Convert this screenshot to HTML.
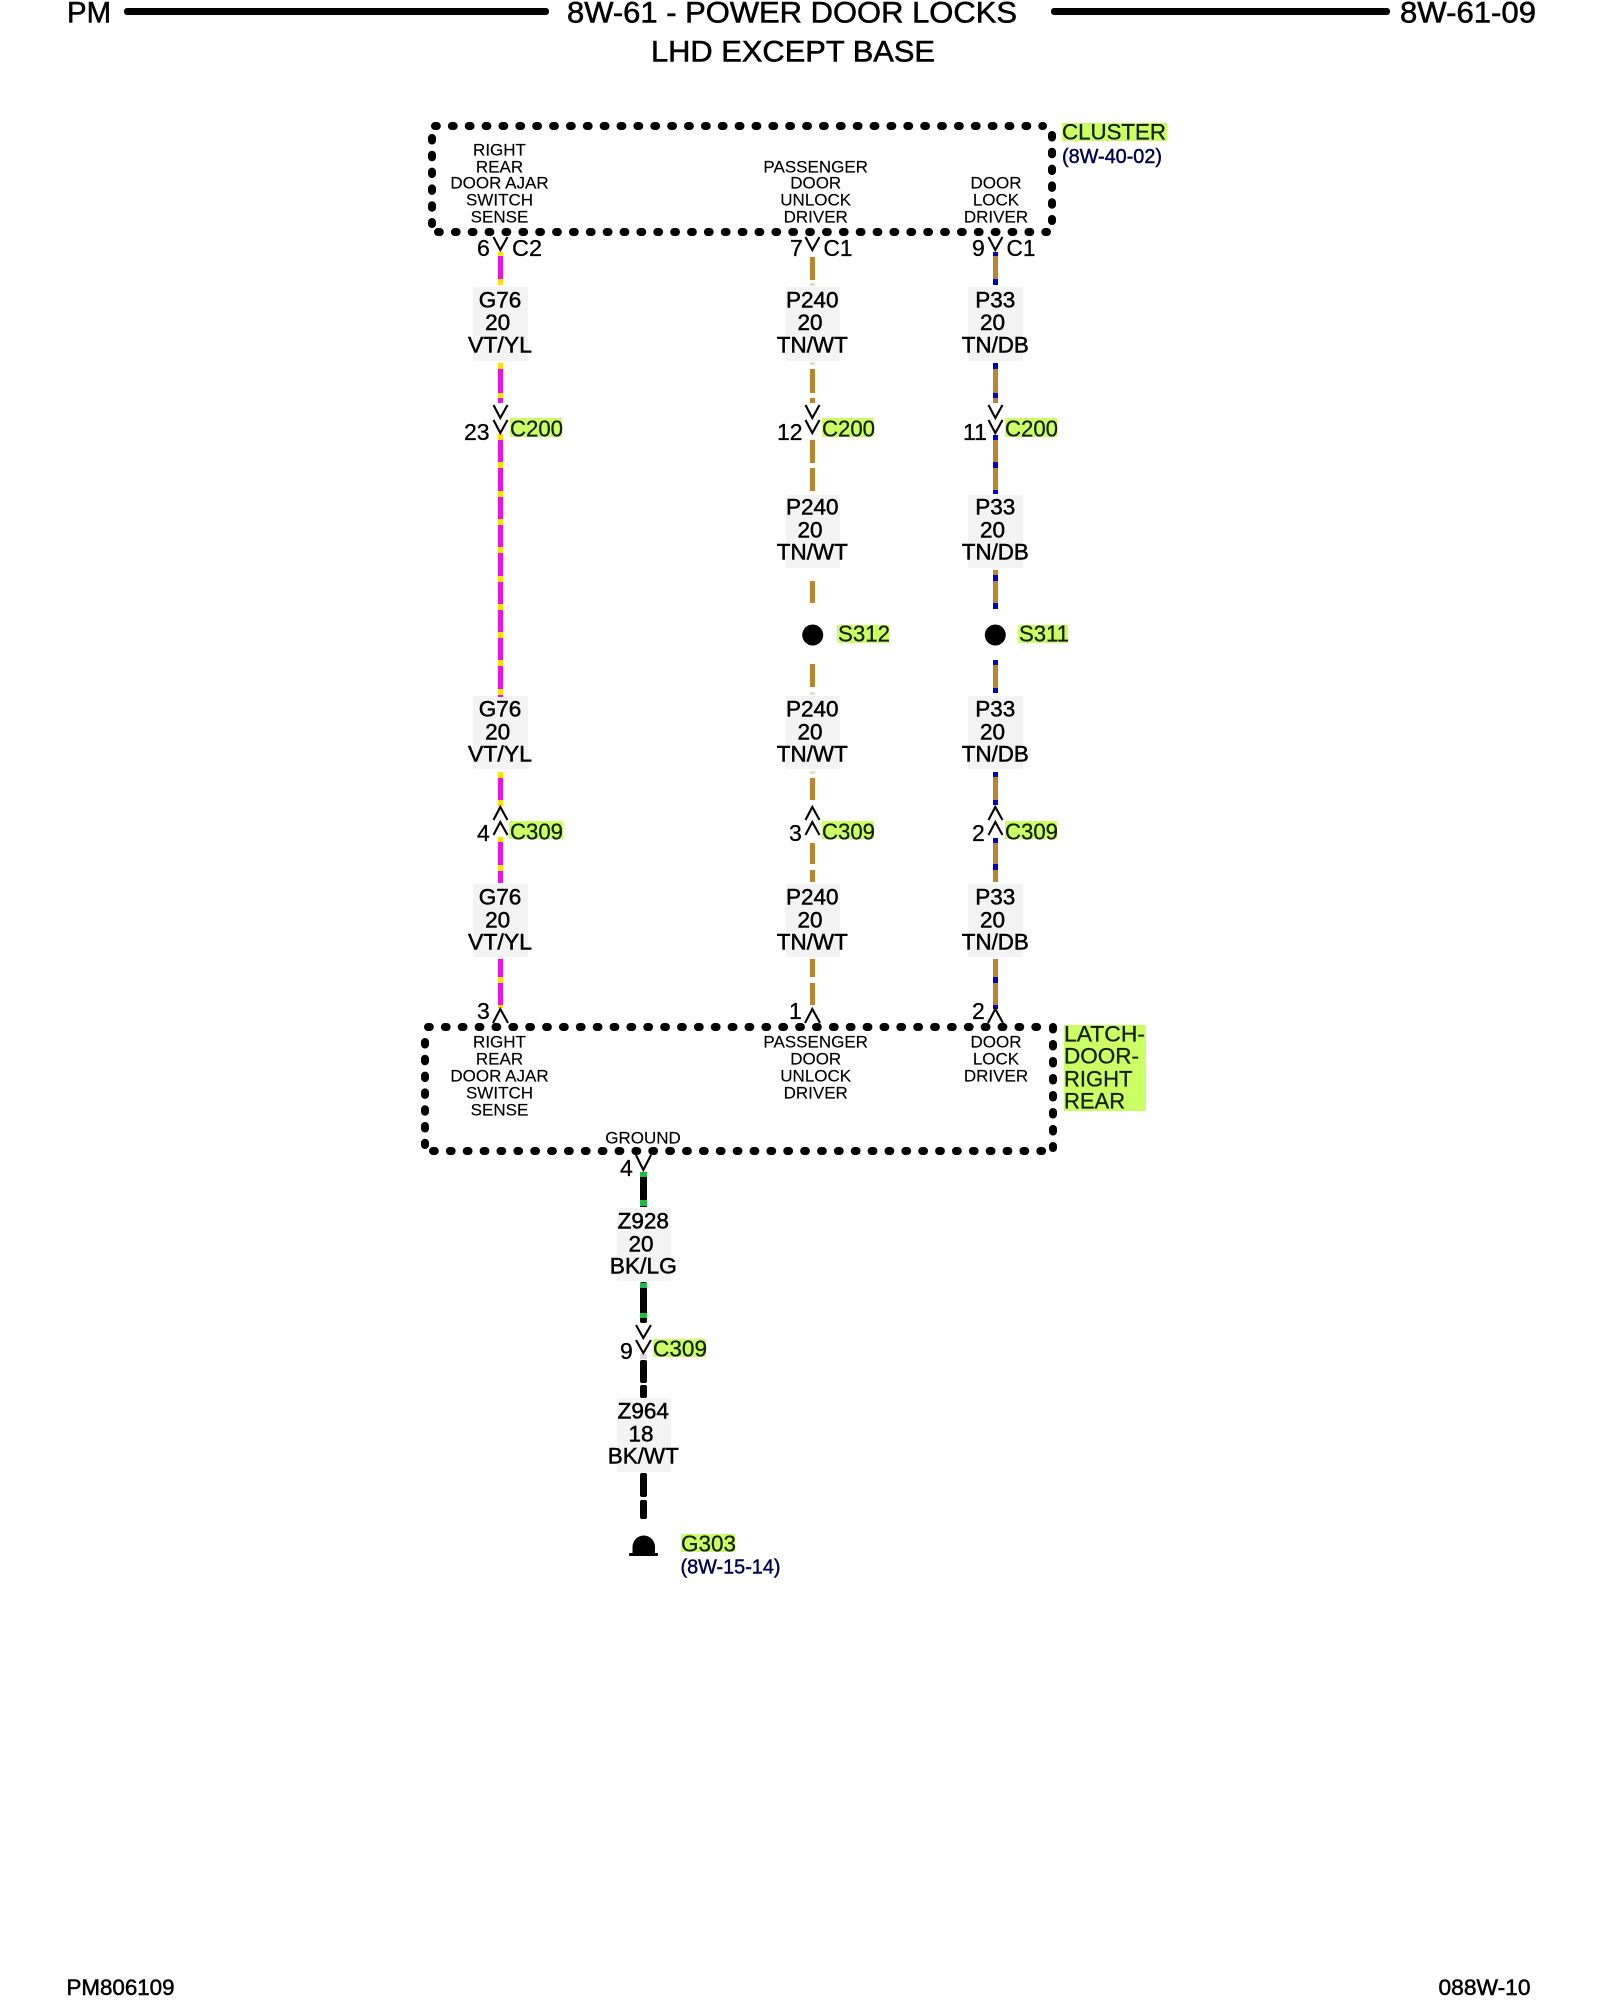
<!DOCTYPE html>
<html><head><meta charset="utf-8"><style>
html,body{margin:0;padding:0;background:#fff}
svg{display:block}
text{font-family:"Liberation Sans",sans-serif;fill:#000}
.h{font-size:30px;stroke:#000;stroke-width:.55;transform:translateY(-.5px)}
.f{font-size:22px;stroke:#000;stroke-width:.5}
.s{font-size:17px;text-anchor:middle;fill:#000;stroke:#000;stroke-width:.15;transform:translateY(-.4px)}
.w{font-size:22.5px;text-anchor:middle;stroke:#000;stroke-width:.5;transform:translateY(-1.3px)}
.n{font-size:23px;stroke:#000;stroke-width:.3;transform:translateY(-1px)}
.g{font-size:23px;fill:#142000;stroke:#142000;stroke-width:.3;transform:translateY(-1.3px)}
.r{font-size:20px;fill:#000050;stroke:#000050;stroke-width:.45}
.b{fill:none;stroke:#000;stroke-width:8;stroke-linecap:round}
.c{fill:none;stroke:#000;stroke-width:2.1}
.m{fill:#e815e0}.y{fill:#ffdf00}.t{fill:#bb8530}.u{fill:#0000cc}.k{fill:#000}.e{fill:#22bb44}.l{fill:#e6dccb}
.hl{fill:#ccff66}.box{fill:#f3f3f3}
</style></head><body>
<svg xmlns="http://www.w3.org/2000/svg" width="1600" height="2000" viewBox="0 0 1600 2000">
<rect width="1600" height="2000" fill="#fff"/>

<!-- header -->
<text class="h" x="67" y="23" textLength="44" lengthAdjust="spacingAndGlyphs">PM</text>
<rect x="124" y="8" width="425" height="7" rx="3" fill="#000"/>
<text class="h" x="567" y="23" textLength="450" lengthAdjust="spacingAndGlyphs">8W-61 - POWER DOOR LOCKS</text>
<rect x="1051" y="8" width="339" height="7" rx="3" fill="#000"/>
<text class="h" x="1400" y="23" textLength="136" lengthAdjust="spacingAndGlyphs">8W-61-09</text>
<text class="h" x="651" y="62" textLength="284" lengthAdjust="spacingAndGlyphs">LHD EXCEPT BASE</text>

<!-- footer -->
<text class="f" x="66.5" y="1995" textLength="108" lengthAdjust="spacingAndGlyphs">PM806109</text>
<text class="f" x="1438.5" y="1995" textLength="92" lengthAdjust="spacingAndGlyphs">088W-10</text>

<!-- highlights -->
<rect class="hl" x="1062" y="123" width="105" height="18"/>
<rect class="hl" x="510" y="418" width="52" height="19"/>
<rect class="hl" x="822" y="418" width="52" height="19"/>
<rect class="hl" x="1005" y="418" width="52" height="19"/>
<rect class="hl" x="837" y="625" width="52" height="18"/>
<rect class="hl" x="1018" y="625" width="50" height="18"/>
<rect class="hl" x="509" y="821" width="54" height="18"/>
<rect class="hl" x="822" y="821" width="52" height="18"/>
<rect class="hl" x="1005" y="821" width="52" height="18"/>
<rect class="hl" x="1064" y="1025" width="82" height="86"/>
<rect class="hl" x="653" y="1339" width="53" height="18"/>
<rect class="hl" x="681" y="1534" width="54" height="18"/>

<!-- wire label boxes -->
<rect class="box" x="473" y="287" width="55" height="74"/>
<rect class="box" x="786" y="287" width="54" height="74"/>
<rect class="box" x="968" y="287" width="55" height="74"/>
<rect class="box" x="786" y="495" width="54" height="73"/>
<rect class="box" x="968" y="495" width="55" height="73"/>
<rect class="box" x="473" y="696" width="55" height="73"/>
<rect class="box" x="786" y="696" width="54" height="73"/>
<rect class="box" x="968" y="696" width="55" height="73"/>
<rect class="box" x="473" y="884" width="55" height="73"/>
<rect class="box" x="786" y="884" width="54" height="73"/>
<rect class="box" x="968" y="884" width="55" height="73"/>
<rect class="box" x="617" y="1208" width="54" height="73"/>
<rect class="box" x="617" y="1398" width="54" height="74"/>

<!-- dotted component boxes -->
<path class="b" d="M435 126H1043" stroke-dasharray="1.8 15.07"/>
<path class="b" d="M438 232H1047" stroke-dasharray="1.8 15.07"/>
<path class="b" d="M432 138V224" stroke-dasharray="2.5 14.3"/>
<path class="b" d="M1052 135V221" stroke-dasharray="2.5 14.3"/>
<path class="b" d="M428 1027H1040" stroke-dasharray="1.8 15.07"/>
<path class="b" d="M433 1151H1045" stroke-dasharray="1.8 15.07"/>
<path class="b" d="M425 1042V1145" stroke-dasharray="2.5 14.3"/>
<path class="b" d="M1053 1027V1148" stroke-dasharray="2.5 14.5"/>

<!-- column 1 wire -->
<g>
<rect class="m" x="498" y="252" width="5" height="33"/>
<rect class="m" x="498" y="363" width="5" height="40"/>
<rect class="m" x="498" y="434" width="5" height="263"/>
<rect class="m" x="498" y="772" width="5" height="34"/>
<rect class="m" x="498" y="837" width="5" height="46"/>
<rect class="m" x="498" y="959" width="5" height="49"/>
<rect class="y" x="498" y="252" width="5" height="4"/>
<rect class="y" x="498" y="279" width="5" height="6"/>
<rect class="y" x="498" y="363" width="5" height="6"/>
<rect class="y" x="498" y="393" width="5" height="5"/>
<rect class="y" x="498" y="434" width="5" height="6"/>
<rect class="y" x="498" y="462" width="5" height="6"/>
<rect class="y" x="498" y="491" width="5" height="6"/>
<rect class="y" x="498" y="519" width="5" height="6"/>
<rect class="y" x="498" y="547" width="5" height="6"/>
<rect class="y" x="498" y="576" width="5" height="6"/>
<rect class="y" x="498" y="604" width="5" height="6"/>
<rect class="y" x="498" y="632" width="5" height="6"/>
<rect class="y" x="498" y="660" width="5" height="6"/>
<rect class="y" x="498" y="689" width="5" height="6"/>
<rect class="y" x="498" y="772" width="5" height="6"/>
<rect class="y" x="498" y="800" width="5" height="6"/>
<rect class="y" x="498" y="837" width="5" height="5"/>
<rect class="y" x="498" y="865" width="5" height="6"/>
<rect class="y" x="498" y="977" width="5" height="6"/>
<rect class="y" x="498" y="1005" width="5" height="3"/>
</g>

<!-- column 2 wire -->
<g>
<rect class="t" x="810" y="257" width="5" height="23"/>
<rect class="l" x="810" y="283" width="5" height="3"/>
<rect class="l" x="810" y="362" width="5" height="3"/>
<rect class="t" x="810" y="369" width="5" height="24"/>
<rect class="t" x="810" y="398" width="5" height="5"/>
<rect class="t" x="810" y="440" width="5" height="23"/>
<rect class="t" x="810" y="468" width="5" height="23"/>
<rect class="t" x="810" y="581" width="5" height="22"/>
<rect class="t" x="810" y="664" width="5" height="23"/>
<rect class="l" x="810" y="692" width="5" height="3"/>
<rect class="l" x="810" y="771" width="5" height="3"/>
<rect class="t" x="810" y="778" width="5" height="22"/>
<rect class="t" x="810" y="843" width="5" height="21"/>
<rect class="t" x="810" y="870" width="5" height="12"/>
<rect class="t" x="810" y="959" width="5" height="18"/>
<rect class="t" x="810" y="983" width="5" height="22"/>
</g>

<!-- column 3 wire -->
<g>
<rect class="t" x="993" y="252" width="5" height="33"/>
<rect class="t" x="993" y="363" width="5" height="40"/>
<rect class="t" x="993" y="435" width="5" height="59"/>
<rect class="t" x="993" y="570" width="5" height="39"/>
<rect class="t" x="993" y="660" width="5" height="33"/>
<rect class="t" x="993" y="772" width="5" height="33"/>
<rect class="t" x="993" y="838" width="5" height="44"/>
<rect class="t" x="993" y="959" width="5" height="50"/>
<rect class="u" x="993" y="252" width="5" height="4"/>
<rect class="u" x="993" y="279" width="5" height="6"/>
<rect class="u" x="993" y="363" width="5" height="6"/>
<rect class="u" x="993" y="393" width="5" height="5"/>
<rect class="u" x="993" y="435" width="5" height="5"/>
<rect class="u" x="993" y="462" width="5" height="6"/>
<rect class="u" x="993" y="490" width="5" height="4"/>
<rect class="u" x="993" y="575" width="5" height="6"/>
<rect class="u" x="993" y="603" width="5" height="6"/>
<rect class="u" x="993" y="660" width="5" height="5"/>
<rect class="u" x="993" y="688" width="5" height="5"/>
<rect class="u" x="993" y="772" width="5" height="5"/>
<rect class="u" x="993" y="800" width="5" height="5"/>
<rect class="u" x="993" y="838" width="5" height="5"/>
<rect class="u" x="993" y="864" width="5" height="6"/>
<rect class="u" x="993" y="977" width="5" height="6"/>
<rect class="u" x="993" y="1005" width="5" height="4"/>
</g>

<!-- ground wire -->
<g>
<rect class="k" x="640" y="1172" width="7" height="35"/>
<rect class="e" x="640" y="1172" width="7" height="5"/>
<rect class="e" x="640" y="1200" width="7" height="6"/>
<rect class="k" x="640" y="1282" width="7" height="41" rx="2"/>
<rect class="e" x="640" y="1283" width="7" height="5"/>
<rect class="e" x="640" y="1313" width="7" height="5"/>
<rect class="k" x="640" y="1360" width="7" height="23" rx="2"/>
<rect class="k" x="640" y="1385" width="7" height="13" rx="2"/>
<rect x="640" y="1354" width="7" height="5" fill="#ddd"/>
<rect class="k" x="640" y="1473" width="7" height="24" rx="2"/>
<rect class="k" x="640" y="1500" width="7" height="19" rx="2"/>
</g>

<!-- splices -->
<circle cx="812.7" cy="635" r="10.5" fill="#000"/>
<circle cx="995.3" cy="635" r="10.5" fill="#000"/>

<!-- ground symbol -->
<path d="M632.5 1553V1547A11.2 11.5 0 0 1 655 1547V1553Z" fill="#000"/>
<rect x="629" y="1553" width="29" height="3" rx="1" fill="#000"/>

<!-- connector chevrons -->
<g class="c">
<path class="c" d="M493.5 237L500.3 250L507.5 237"/>
<path class="c" d="M805.5 237L812.3 250L819.5 237"/>
<path class="c" d="M988.5 237L995.3 250L1002.5 237"/>
<path class="c" d="M493.5 405L500.3 418L507.5 405M493.5 420L500.3 433L507.5 420"/>
<path class="c" d="M805.5 405L812.3 418L819.5 405M805.5 420L812.3 433L819.5 420"/>
<path class="c" d="M988.5 405L995.3 418L1002.5 405M988.5 420L995.3 433L1002.5 420"/>
<path class="c" d="M493.5 820L500.3 807L507.5 820M493.5 835L500.3 822L507.5 835"/>
<path class="c" d="M805.5 820L812.3 807L819.5 820M805.5 835L812.3 822L819.5 835"/>
<path class="c" d="M988.5 820L995.3 807L1002.5 820M988.5 835L995.3 822L1002.5 835"/>
<path class="c" d="M493 1023L500.3 1009L508 1023"/>
<path class="c" d="M805 1023L812.3 1009L820 1023"/>
<path class="c" d="M988 1023L995.3 1009L1003 1023"/>
<path class="c" d="M636 1155L643.3 1170L651 1155"/>
<path class="c" d="M636 1325L643.3 1338L651 1325M636 1340L643.3 1353L651 1340"/>
</g>

<!-- cluster labels -->
<text class="s" x="499.5" y="156">RIGHT</text>
<text class="s" x="499.5" y="173">REAR</text>
<text class="s" x="499.5" y="189">DOOR AJAR</text>
<text class="s" x="499.5" y="206">SWITCH</text>
<text class="s" x="499.5" y="223">SENSE</text>
<text class="s" x="815.7" y="173">PASSENGER</text>
<text class="s" x="815.7" y="189">DOOR</text>
<text class="s" x="815.7" y="206">UNLOCK</text>
<text class="s" x="815.7" y="223">DRIVER</text>
<text class="s" x="996" y="189">DOOR</text>
<text class="s" x="996" y="206">LOCK</text>
<text class="s" x="996" y="223">DRIVER</text>

<!-- latch labels -->
<text class="s" x="499.5" y="1048">RIGHT</text>
<text class="s" x="499.5" y="1065">REAR</text>
<text class="s" x="499.5" y="1082">DOOR AJAR</text>
<text class="s" x="499.5" y="1099">SWITCH</text>
<text class="s" x="499.5" y="1116">SENSE</text>
<text class="s" x="815.7" y="1048">PASSENGER</text>
<text class="s" x="815.7" y="1065">DOOR</text>
<text class="s" x="815.7" y="1082">UNLOCK</text>
<text class="s" x="815.7" y="1099">DRIVER</text>
<text class="s" x="996" y="1048">DOOR</text>
<text class="s" x="996" y="1065">LOCK</text>
<text class="s" x="996" y="1082">DRIVER</text>
<text class="s" x="643" y="1144">GROUND</text>

<!-- connector numbers -->
<text class="n" x="477" y="257">6</text><text class="n" x="512" y="257" textLength="30" lengthAdjust="spacingAndGlyphs">C2</text>
<text class="n" x="790" y="257">7</text><text class="n" x="823.5" y="257" textLength="29" lengthAdjust="spacingAndGlyphs">C1</text>
<text class="n" x="972" y="257">9</text><text class="n" x="1006.5" y="257" textLength="29" lengthAdjust="spacingAndGlyphs">C1</text>
<text class="n" x="464" y="441">23</text>
<text class="n" x="777" y="441">12</text>
<text class="n" x="963" y="441">11</text>
<text class="n" x="477" y="842">4</text>
<text class="n" x="789" y="842">3</text>
<text class="n" x="972" y="842">2</text>
<text class="n" x="477" y="1020">3</text>
<text class="n" x="789" y="1020">1</text>
<text class="n" x="972" y="1020">2</text>
<text class="n" x="620" y="1177">4</text>
<text class="n" x="620" y="1360">9</text>

<!-- green labels -->
<text class="g" x="1062" y="141" style="font-size:22px" textLength="104" lengthAdjust="spacingAndGlyphs">CLUSTER</text>
<text class="g" x="510" y="438" textLength="53" lengthAdjust="spacingAndGlyphs">C200</text>
<text class="g" x="822" y="438" textLength="53" lengthAdjust="spacingAndGlyphs">C200</text>
<text class="g" x="1005" y="438" textLength="53" lengthAdjust="spacingAndGlyphs">C200</text>
<text class="g" x="838" y="643" textLength="52" lengthAdjust="spacingAndGlyphs">S312</text>
<text class="g" x="1019" y="643" textLength="50" lengthAdjust="spacingAndGlyphs">S311</text>
<text class="g" x="510" y="841" textLength="53" lengthAdjust="spacingAndGlyphs">C309</text>
<text class="g" x="822" y="841" textLength="53" lengthAdjust="spacingAndGlyphs">C309</text>
<text class="g" x="1005" y="841" textLength="53" lengthAdjust="spacingAndGlyphs">C309</text>
<text class="g" x="1064" y="1043" style="font-size:22px" textLength="81" lengthAdjust="spacingAndGlyphs">LATCH-</text>
<text class="g" x="1064" y="1065" style="font-size:22px" textLength="75" lengthAdjust="spacingAndGlyphs">DOOR-</text>
<text class="g" x="1064" y="1088" style="font-size:22px">RIGHT</text>
<text class="g" x="1064" y="1110" style="font-size:22px">REAR</text>
<text class="g" x="653" y="1358" textLength="54" lengthAdjust="spacingAndGlyphs">C309</text>
<text class="g" x="681" y="1553" textLength="55" lengthAdjust="spacingAndGlyphs">G303</text>

<!-- references -->
<text class="r" x="1062" y="163" textLength="100" lengthAdjust="spacingAndGlyphs">(8W-40-02)</text>
<text class="r" x="680.5" y="1573.5" textLength="100" lengthAdjust="spacingAndGlyphs">(8W-15-14)</text>

<!-- wire labels -->
<text class="w" x="500" y="309">G76</text><text class="w" x="497.7" y="331.5">20</text><text class="w" x="500" y="354" textLength="64" lengthAdjust="spacingAndGlyphs">VT/YL</text>
<text class="w" x="812.3" y="309">P240</text><text class="w" x="810" y="331.5">20</text><text class="w" x="812.3" y="354" textLength="71" lengthAdjust="spacingAndGlyphs">TN/WT</text>
<text class="w" x="995.3" y="309">P33</text><text class="w" x="992.5" y="331.5">20</text><text class="w" x="995.3" y="354" textLength="67" lengthAdjust="spacingAndGlyphs">TN/DB</text>

<text class="w" x="812.3" y="516">P240</text><text class="w" x="810" y="539">20</text><text class="w" x="812.3" y="561" textLength="71" lengthAdjust="spacingAndGlyphs">TN/WT</text>
<text class="w" x="995.3" y="516">P33</text><text class="w" x="992.5" y="539">20</text><text class="w" x="995.3" y="561" textLength="67" lengthAdjust="spacingAndGlyphs">TN/DB</text>

<text class="w" x="500" y="718">G76</text><text class="w" x="497.7" y="741">20</text><text class="w" x="500" y="763" textLength="64" lengthAdjust="spacingAndGlyphs">VT/YL</text>
<text class="w" x="812.3" y="718">P240</text><text class="w" x="810" y="741">20</text><text class="w" x="812.3" y="763" textLength="71" lengthAdjust="spacingAndGlyphs">TN/WT</text>
<text class="w" x="995.3" y="718">P33</text><text class="w" x="992.5" y="741">20</text><text class="w" x="995.3" y="763" textLength="67" lengthAdjust="spacingAndGlyphs">TN/DB</text>

<text class="w" x="500" y="906">G76</text><text class="w" x="497.7" y="929">20</text><text class="w" x="500" y="951" textLength="64" lengthAdjust="spacingAndGlyphs">VT/YL</text>
<text class="w" x="812.3" y="906">P240</text><text class="w" x="810" y="929">20</text><text class="w" x="812.3" y="951" textLength="71" lengthAdjust="spacingAndGlyphs">TN/WT</text>
<text class="w" x="995.3" y="906">P33</text><text class="w" x="992.5" y="929">20</text><text class="w" x="995.3" y="951" textLength="67" lengthAdjust="spacingAndGlyphs">TN/DB</text>

<text class="w" x="643.3" y="1230">Z928</text><text class="w" x="641" y="1253">20</text><text class="w" x="643.3" y="1275" textLength="67" lengthAdjust="spacingAndGlyphs">BK/LG</text>
<text class="w" x="643.3" y="1420">Z964</text><text class="w" x="641" y="1443">18</text><text class="w" x="643.3" y="1465" textLength="71" lengthAdjust="spacingAndGlyphs">BK/WT</text>
</svg>
</body></html>
